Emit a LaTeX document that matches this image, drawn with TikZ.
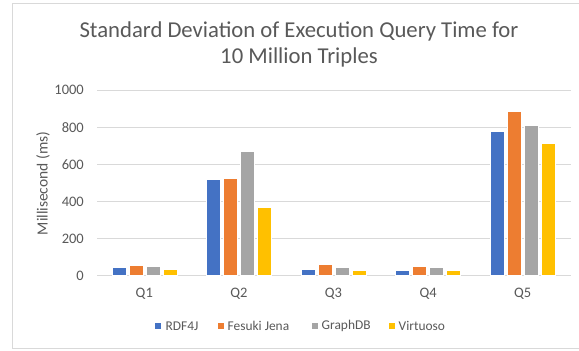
\documentclass[tikz,border=0pt]{standalone}
\usepackage{fontspec}
\setmainfont{Carlito}
\definecolor{sblue}{HTML}{4472C4}
\definecolor{sorange}{HTML}{ED7D31}
\definecolor{sgray}{HTML}{A5A5A5}
\definecolor{syellow}{HTML}{FFC000}
\definecolor{txtgray}{HTML}{595959}
\definecolor{gridgray}{HTML}{D9D9D9}
\tikzset{
  gridline/.style={draw=gridgray, line width=0.9pt},
  ticklabel/.style={font=\fontsize{14.5}{16}\selectfont, text=txtgray, anchor=east, inner sep=0pt},
  catlabel/.style={font=\fontsize{14.5}{16}\selectfont, text=txtgray, inner sep=0pt},
  bar/.style={draw=white, line width=0.6pt},
  legkey/.style={minimum size=6pt, inner sep=0pt, draw=none},
  legtext/.style={font=\fontsize{13.4}{15}\selectfont, text=txtgray, anchor=west, inner sep=0pt},
}
\begin{document}
\begin{tikzpicture}[x=1pt, y=-1pt]
  \useasboundingbox (0,0) rectangle (579,351);
  \fill[white] (0,0) rectangle (579,351);
  % chart frame (right edge lies outside the picture)
  \draw[gridgray, line width=1pt] (590,3.5) -- (12,3.5) -- (12,348.5) -- (590,348.5);

  % title
  \node[text=txtgray, font=\fontsize{22.7}{26}\selectfont, align=center] (title) at (299,44)
    {Standard Deviation of Execution Query Time for\\10 Million Triples};

  % value axis: gridlines and labels
  \foreach \v in {0,200,...,1000}{
    \draw[gridline] (97,{275.6-0.1856*\v}) -- (570.5,{275.6-0.1856*\v});
    \node[ticklabel] (tick\v) at (84,{275.6-0.1856*\v}) {\v};
  }
  \node[rotate=90, text=txtgray, font=\fontsize{15.5}{17}\selectfont] (ytitle) at (43,183.5) {Millisecond (ms)};

  % bars: category index / values for RDF4J, Fesuki Jena, GraphDB, Virtuoso
  \foreach \i/\a/\b/\c/\d in {1/43/56/48/36, 2/517/522/671/368, 3/36/63/43/31, 4/31/49/43/31, 5/776/887/808/713}{
    \pgfmathsetmacro{\cx}{97+94.6*(\i-0.5)}
    \foreach \off/\val/\col [count=\k] in {-25.5/\a/sblue, -8.5/\b/sorange, 8.5/\c/sgray, 25.5/\d/syellow}{
      \path[bar, fill=\col] ({\cx+\off-7},275.6) rectangle ({\cx+\off+7},{275.6-0.1856*\val});
    }
    \node[catlabel] (q\i) at (\cx,293.5) {Q\i};
  }

  % legend
  \node[legkey, fill=sblue] (k1) at (158,326) {};
  \node[legtext] (l1) at (165.5,326) {RDF4J};
  \node[legkey, fill=sorange] (k2) at (220.5,326) {};
  \node[legtext] (l2) at (227.5,326) {Fesuki Jena};
  \node[legkey, fill=sgray] (k3) at (314.5,326) {};
  \node[legtext] (l3) at (321.5,326) {GraphDB};
  \node[legkey, fill=syellow] (k4) at (391.5,326) {};
  \node[legtext] (l4) at (398.5,326) {Virtuoso};
\end{tikzpicture}
\end{document}
